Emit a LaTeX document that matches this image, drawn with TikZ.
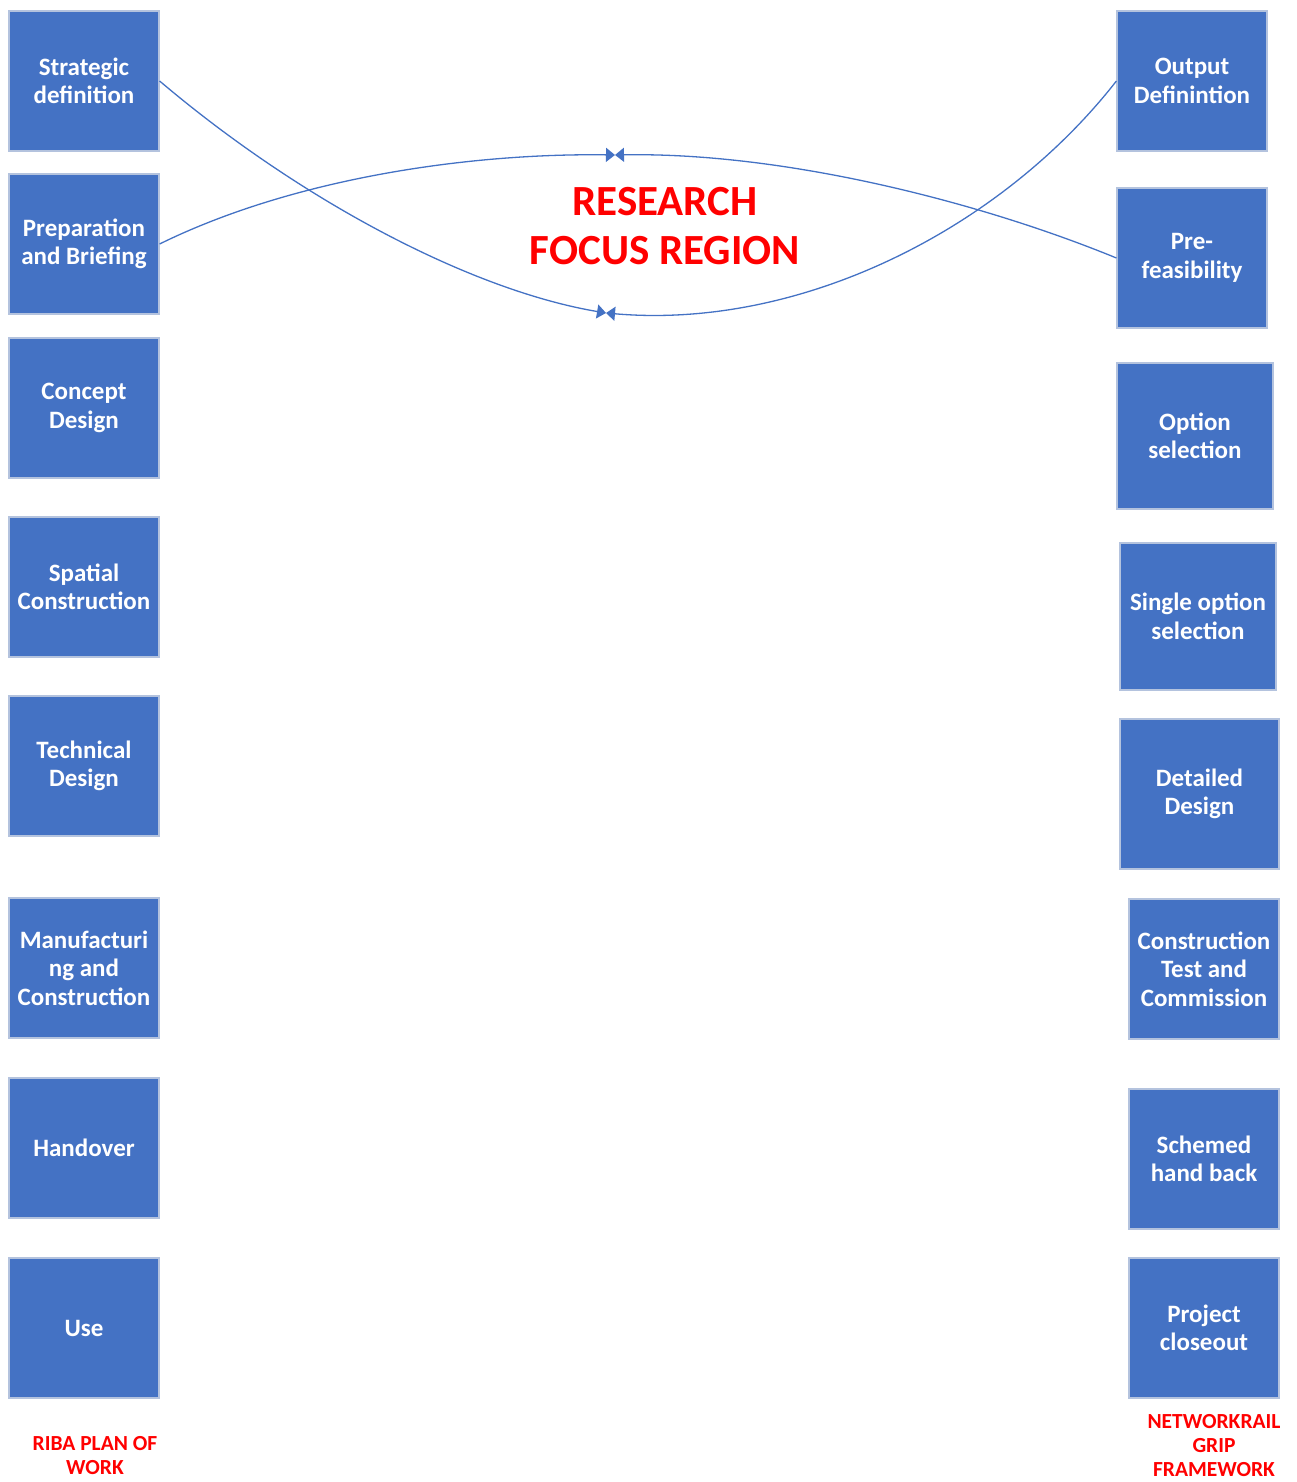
\documentclass[tikz,border=0pt]{standalone}
\usepackage{fontspec}
\setmainfont{Carlito}
\usetikzlibrary{arrows.meta}
\definecolor{boxblue}{HTML}{4472C4}
\definecolor{boxedge}{HTML}{B4C3DE}
\definecolor{labelred}{HTML}{FF0000}
\tikzset{
  stage/.style={rectangle, fill=boxblue, draw=boxedge, line width=1.2pt,
    text=white, align=center, inner sep=0pt,
    font=\fontsize{25}{28.5}\selectfont\bfseries},
  link/.style={draw=boxblue, line width=1.3pt,
    -{Triangle[length=9pt,width=14pt]}},
  caption/.style={text=labelred, align=center,
    font=\fontsize{21.5}{24}\selectfont\bfseries},
}
\begin{document}
\begin{tikzpicture}[x=1pt,y=-1pt]
\useasboundingbox (0,0) rectangle (1296,1482);

% RIBA plan of work stages
\node[stage, minimum width=150pt, minimum height=140pt] (strat) at (84,81) {Strategic\\definition};
\node[stage, minimum width=150pt, minimum height=140pt] (prep) at (84,244) {Preparation\\and Briefing};
\node[stage, minimum width=150pt, minimum height=140pt] (concept) at (84,408) {Concept\\Design};
\node[stage, minimum width=150pt, minimum height=140pt] (spatial) at (84,587) {Spatial\\Construction};
\node[stage, minimum width=150pt, minimum height=140pt] (tech) at (84,766) {Technical\\Design};
\node[stage, minimum width=150pt, minimum height=140pt] (manuf) at (84,968) {Manufacturi\\ng and\\Construction};
\node[stage, minimum width=150pt, minimum height=140pt] (hand) at (84,1148) {Handover};
\node[stage, minimum width=150pt, minimum height=140pt] (use) at (84,1328) {Use};

% Network Rail GRIP stages
\node[stage, minimum width=150pt, minimum height=140pt] (output) at (1192,81) {Output\\Definintion};
\node[stage, minimum width=150pt, minimum height=140pt] (prefeas) at (1192,258) {Pre-\\feasibility};
\node[stage, minimum width=156pt, minimum height=146pt] (option) at (1195,436) {Option\\selection};
\node[stage, minimum width=156pt, minimum height=147pt] (single) at (1198,616.5) {Single option\\selection};
\node[stage, minimum width=159pt, minimum height=150pt] (detail) at (1199.5,794) {Detailed\\Design};
\node[stage, minimum width=150pt, minimum height=140pt] (ctc) at (1204,969) {Construction\\Test and\\Commission};
\node[stage, minimum width=150pt, minimum height=140pt] (handback) at (1204,1159) {Schemed\\hand back};
\node[stage, minimum width=150pt, minimum height=140pt] (closeout) at (1204,1328) {Project\\closeout};

% Framework captions
\node[caption] (riba) at (95,1456) {RIBA PLAN OF\\WORK};
\node[caption] (grip) at (1214,1446) {NETWORKRAIL\\GRIP\\FRAMEWORK};

% Central title
\node[text=labelred, align=center, font=\fontsize{43}{49}\selectfont\bfseries] (focus) at (665,226) {RESEARCH\\FOCUS REGION};

% Meeting points of the two arcs
\coordinate (topmid) at (615,155);
\coordinate (botmid) at (606,313);

% Upper arc: Preparation and Briefing <-> Pre-feasibility
\draw[link] (prep.east) .. controls (300,175) and (480,153) .. (topmid);
\draw[link] (prefeas.west) .. controls (975,200) and (780,152) .. (topmid);

% Lower arc: Strategic definition <-> Output Definintion
\draw[link] (strat.east) .. controls (300,200) and (470,290) .. (botmid);
\draw[link] (output.west) .. controls (1000,230) and (800,330) .. (botmid);
\end{tikzpicture}
\end{document}
